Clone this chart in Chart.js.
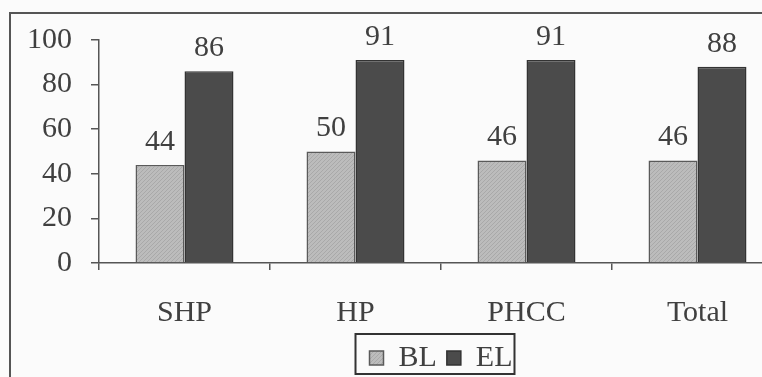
<!DOCTYPE html>
<html>
<head>
<meta charset="utf-8">
<script src="https://cdn.jsdelivr.net/npm/chart.js@4"></script>
<style>
  html, body { margin: 0; padding: 0; overflow: hidden; background: #fbfbfb; }
  #wrap { width: 800px; height: 383px; position: relative; }
</style>
</head>
<body>
<div id="wrap"><canvas id="grafico"></canvas></div>
<script>
// dados
const categorias = ['SHP', 'HP', 'PHCC', 'Total'];
const valoresBL = [44, 50, 46, 46];
const valoresEL = [86, 91, 91, 88];
const ticksY = [0, 20, 40, 60, 80, 100];

const corTexto = '#404040';
const corLinha = '#555555';

// padrão pontilhado para as barras BL (efeito da digitalização)
function padraoBL() {
  const c = document.createElement('canvas');
  c.width = 4; c.height = 4;
  const g = c.getContext('2d');
  g.fillStyle = '#bcbcbc';
  g.fillRect(0, 0, 4, 4);
  g.fillStyle = '#a9a9a9';
  g.fillRect(0, 0, 1, 1);
  g.fillRect(2, 2, 1, 1);
  g.fillRect(1, 3, 1, 1);
  g.fillRect(3, 1, 1, 1);
  return g.createPattern(c, 'repeat');
}

// moldura externa + fundo
const moldura = {
  id: 'moldura',
  beforeDraw(chart) {
    const ctx = chart.ctx;
    ctx.save();
    ctx.fillStyle = '#fbfbfb';
    ctx.fillRect(0, 0, chart.width, chart.height);
    ctx.strokeStyle = corLinha;
    ctx.lineWidth = 2;
    ctx.beginPath();
    ctx.moveTo(10, chart.height + 5);
    ctx.lineTo(10, 13);
    ctx.lineTo(chart.width + 5, 13);
    ctx.stroke();
    ctx.restore();
  }
};

// valores acima das barras
const rotulos = {
  id: 'rotulos',
  afterDatasetsDraw(chart) {
    const ctx = chart.ctx;
    ctx.save();
    ctx.font = "30px 'Liberation Serif', serif";
    ctx.fillStyle = corTexto;
    ctx.textAlign = 'center';
    ctx.textBaseline = 'middle';
    chart.data.datasets.forEach((ds, i) => {
      chart.getDatasetMeta(i).data.forEach((bar, j) => {
        ctx.fillText(String(ds.data[j]), bar.x, bar.y - 23);
      });
    });
    ctx.restore();
  }
};

// caixa em volta da legenda
const caixaLegenda = {
  id: 'caixaLegenda',
  afterDraw(chart) {
    const hb = chart.legend && chart.legend.legendHitBoxes;
    if (!hb || !hb.length) return;
    const ult = hb[hb.length - 1];
    const x0 = hb[0].left - 14;
    const x1 = ult.left + ult.width + 2;
    const y0 = hb[0].top - 9;
    const y1 = hb[0].top + hb[0].height + 1;
    const ctx = chart.ctx;
    ctx.save();
    ctx.strokeStyle = '#333333';
    ctx.lineWidth = 2;
    ctx.strokeRect(x0, y0, x1 - x0, y1 - y0);
    ctx.restore();
  }
};

Chart.defaults.font.family = "'Liberation Serif', serif";
Chart.defaults.font.size = 30;
Chart.defaults.color = corTexto;

new Chart(document.getElementById('grafico'), {
  type: 'bar',
  data: {
    labels: categorias,
    datasets: [
      {
        label: 'BL',
        data: valoresBL,
        backgroundColor: padraoBL(),
        borderColor: '#5a5a5a',
        borderWidth: 1.5,
        categoryPercentage: 0.573,
        barPercentage: 1.0
      },
      {
        label: 'EL',
        data: valoresEL,
        backgroundColor: '#4b4b4b',
        borderColor: '#333333',
        borderWidth: 1.5,
        categoryPercentage: 0.573,
        barPercentage: 1.0
      }
    ]
  },
  options: {
    responsive: true,
    maintainAspectRatio: false,
    animation: false,
    layout: { padding: { left: 22, right: 17, top: 40, bottom: 0 } },
    plugins: {
      legend: {
        position: 'bottom',
        fullSize: false,
        labels: {
          boxWidth: 14,
          boxHeight: 14,
          padding: 10,
          color: corTexto,
          font: { size: 30 }
        }
      },
      tooltip: { enabled: false }
    },
    scales: {
      x: {
        grid: {
          offset: true,
          drawOnChartArea: false,
          tickLength: 7,
          color: corLinha,
          lineWidth: 1.5
        },
        border: { color: corLinha, width: 1.5 },
        ticks: { padding: 25, color: corTexto },
        afterFit(scale) { scale.height = 70; }
      },
      y: {
        min: 0,
        max: 100,
        grid: {
          drawOnChartArea: false,
          tickLength: 8,
          color: corLinha,
          lineWidth: 1.5
        },
        border: { color: corLinha, width: 1.5 },
        ticks: {
          stepSize: 20,
          padding: 19,
          color: corTexto,
          callback: (v) => ticksY.includes(v) ? v : ''
        },
        afterFit(scale) { scale.width = 77; }
      }
    }
  },
  plugins: [moldura, rotulos, caixaLegenda]
});
</script>
</body>
</html>
